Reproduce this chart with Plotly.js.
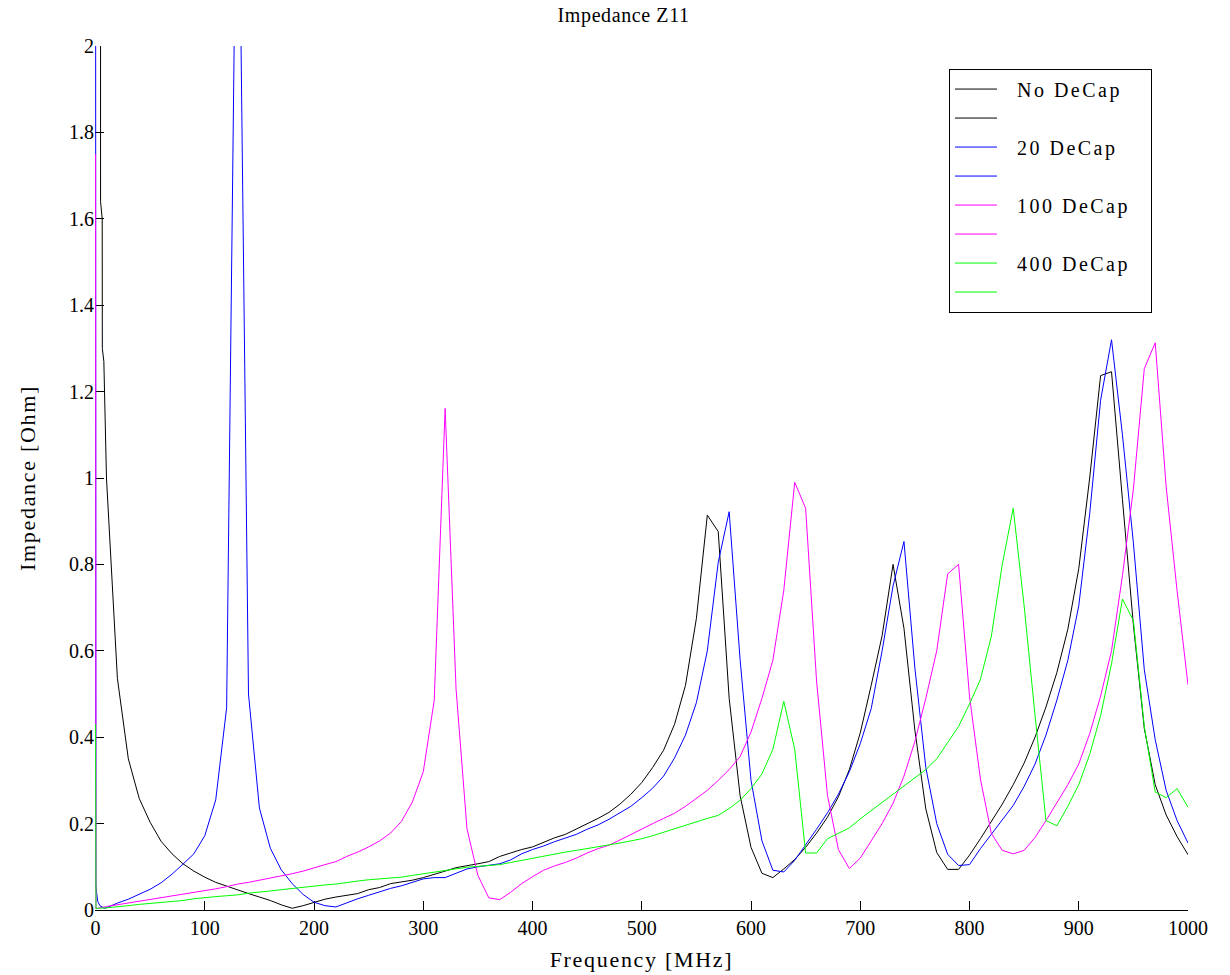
<!DOCTYPE html>
<html>
<head>
<meta charset="utf-8">
<script src="https://cdn.plot.ly/plotly-3.0.1.min.js"></script>
<style>
  html, body { margin: 0; padding: 0; background: #ffffff; }
  #chart { width: 1230px; height: 975px; }
  .legendtext { letter-spacing: 2.5px; }
  .xtitle, .ytitle { letter-spacing: 1.7px; }
  .gtitle { letter-spacing: 0.6px; }
</style>
</head>
<body>
<div id="chart"></div>
<script>
// Frequency grid (MHz) shared by the main sweeps
const freq = [10,20,30,40,50,60,70,80,90,100,110,120,130,140,150,160,170,180,190,200,
  210,220,230,240,250,260,270,280,290,300,310,320,330,340,350,360,370,380,390,400,
  410,420,430,440,450,460,470,480,490,500,510,520,530,540,550,560,570,580,590,600,
  610,620,630,640,650,660,670,680,690,700,710,720,730,740,750,760,770,780,790,800,
  810,820,830,840,850,860,870,880,890,900,910,920,930,940,950,960,970,980,990,1000];

// Impedance [Ohm] - No DeCap
const noDeCap = [1.0,0.536,0.35,0.258,0.203,0.159,0.13,0.107,0.09,0.076,
  0.064,0.055,0.047,0.038,0.03,0.022,0.012,0.004,0.01,0.018,
  0.025,0.03,0.034,0.038,0.047,0.052,0.061,0.065,0.069,0.075,
  0.082,0.09,0.098,0.102,0.107,0.112,0.124,0.132,0.14,0.146,
  0.157,0.167,0.175,0.187,0.2,0.212,0.226,0.245,0.268,0.295,
  0.33,0.37,0.43,0.52,0.675,0.914,0.876,0.49,0.265,0.145,
  0.085,0.075,0.095,0.117,0.145,0.178,0.215,0.262,0.325,0.41,
  0.52,0.635,0.80,0.652,0.416,0.234,0.133,0.094,0.094,0.127,
  0.165,0.205,0.245,0.29,0.34,0.4,0.47,0.55,0.65,0.79,
  1.0,1.237,1.246,0.95,0.66,0.42,0.29,0.22,0.17,0.128];

// Impedance [Ohm] - 20 DeCap
const deCap20 = [0.005,0.016,0.025,0.036,0.048,0.063,0.083,0.106,0.13,0.172,
  0.255,0.468,2.7,0.5,0.236,0.143,0.093,0.061,0.036,0.018,
  0.01,0.007,0.017,0.026,0.034,0.042,0.05,0.056,0.064,0.072,
  0.075,0.075,0.085,0.095,0.1,0.104,0.107,0.116,0.13,0.14,
  0.148,0.158,0.166,0.175,0.187,0.197,0.21,0.225,0.24,0.26,
  0.282,0.31,0.352,0.405,0.48,0.6,0.805,0.922,0.58,0.30,
  0.16,0.092,0.088,0.115,0.15,0.187,0.225,0.268,0.32,0.385,
  0.466,0.60,0.75,0.853,0.56,0.33,0.2,0.129,0.103,0.105,
  0.142,0.175,0.207,0.242,0.286,0.338,0.405,0.486,0.578,0.704,
  0.917,1.18,1.32,1.1,0.85,0.556,0.394,0.277,0.207,0.155];

// Impedance [Ohm] - 100 DeCap
const deCap100 = [0.008,0.012,0.016,0.02,0.024,0.028,0.032,0.036,0.04,0.044,
  0.049,0.054,0.06,0.064,0.069,0.073,0.078,0.084,0.09,0.098,
  0.105,0.112,0.124,0.134,0.146,0.16,0.178,0.205,0.25,0.32,
  0.485,1.161,0.512,0.188,0.08,0.028,0.024,0.041,0.061,0.077,
  0.092,0.102,0.11,0.12,0.132,0.142,0.15,0.162,0.175,0.188,
  0.2,0.212,0.224,0.24,0.258,0.277,0.3,0.325,0.355,0.412,
  0.49,0.578,0.74,0.99,0.93,0.53,0.265,0.14,0.096,0.12,
  0.16,0.2,0.247,0.31,0.39,0.49,0.6,0.778,0.8,0.495,
  0.303,0.177,0.138,0.13,0.138,0.168,0.207,0.247,0.29,0.338,
  0.408,0.495,0.6,0.774,0.974,1.253,1.313,0.98,0.739,0.521];

// Impedance [Ohm] - 400 DeCap
const deCap400 = [0.005,0.007,0.01,0.013,0.015,0.018,0.02,0.022,0.026,0.029,
  0.031,0.033,0.035,0.039,0.041,0.044,0.047,0.05,0.052,0.055,
  0.058,0.06,0.064,0.067,0.07,0.072,0.075,0.076,0.08,0.084,
  0.088,0.092,0.096,0.099,0.101,0.103,0.105,0.11,0.115,0.12,
  0.124,0.129,0.134,0.138,0.142,0.146,0.15,0.155,0.16,0.165,
  0.172,0.18,0.188,0.196,0.205,0.212,0.219,0.235,0.254,0.281,
  0.315,0.372,0.483,0.372,0.132,0.132,0.165,0.178,0.19,0.211,
  0.23,0.25,0.267,0.286,0.306,0.325,0.35,0.386,0.425,0.477,
  0.534,0.634,0.8,0.93,0.704,0.45,0.207,0.195,0.24,0.29,
  0.36,0.45,0.57,0.72,0.67,0.425,0.273,0.26,0.281,0.238];

// Low-frequency sweeps (0-10 MHz)
const noDeCapLowFreq = [4.5,4.6,6.1,6.2,7.6,10];
const noDeCapLow     = [3.5,1.64,1.60,1.30,1.27,1.0];
const deCap20LowFreq = [0,0.3,1,2,4,8,10];
const deCap20Low     = [3.0,0.056,0.04,0.02,0.01,0.004,0.005];
const deCap100LowFreq = [0,0.4,2,10];
const deCap100Low     = [1.75,0.003,0.004,0.008];
const deCap400LowFreq = [0,0.4,2,10];
const deCap400Low     = [0.43,0.003,0.004,0.005];

const names  = ['No DeCap', '20 DeCap', '100 DeCap', '400 DeCap'];
const colors = ['#000000', '#0000ff', '#ff00ff', '#00ff00'];
const mainY  = [noDeCap, deCap20, deCap100, deCap400];
const lowX   = [noDeCapLowFreq, deCap20LowFreq, deCap100LowFreq, deCap400LowFreq];
const lowY   = [noDeCapLow, deCap20Low, deCap100Low, deCap400Low];

const NB = '\u00a0';
const traces = [];
for (let i = 0; i < names.length; i++) {
  traces.push({
    type: 'scatter', mode: 'lines', x: freq, y: mainY[i],
    name: NB + NB + names[i] + NB + NB, line: {color: colors[i], width: 1}
  });
  traces.push({
    type: 'scatter', mode: 'lines', x: lowX[i], y: lowY[i],
    name: NB, line: {color: colors[i], width: 1}
  });
}

const serif = 'Liberation Serif, Times New Roman, serif';
const layout = {
  width: 1230, height: 975,
  margin: {l: 95, r: 42, t: 46, b: 65},
  paper_bgcolor: '#ffffff', plot_bgcolor: '#ffffff',
  font: {family: serif, size: 20, color: '#000000'},
  title: {text: 'Impedance Z11', font: {family: serif, size: 20, color: '#000000'},
          x: 0.507, xref: 'container', y: 0.985, yref: 'container', xanchor: 'center', yanchor: 'middle'},
  showlegend: true,
  legend: {
    x: 0.7813, y: 0.9739, xanchor: 'left', yanchor: 'top',
    bgcolor: '#ffffff', bordercolor: '#000000', borderwidth: 1,
    font: {family: serif, size: 20, color: '#000000'},
    traceorder: 'normal', itemwidth: 42
  },
  xaxis: {
    range: [-0.5, 1000], tickvals: [0,100,200,300,400,500,600,700,800,900,1000],
    layer: 'below traces',
    showline: true, linecolor: '#000000', linewidth: 1, mirror: false,
    ticks: 'inside', ticklen: 9, tickcolor: '#000000', tickwidth: 1,
    showgrid: false, zeroline: false,
    tickfont: {family: serif, size: 20, color: '#000000'},
    title: {text: 'Frequency [MHz]', font: {family: serif, size: 22, color: '#000000'}, standoff: 13}
  },
  yaxis: {
    range: [0, 2], dtick: 0.2, tick0: 0, layer: 'below traces',
    showline: false, mirror: false,
    ticks: 'inside', ticklen: 9, tickcolor: '#000000', tickwidth: 1,
    showgrid: false, zeroline: false,
    tickfont: {family: serif, size: 20, color: '#000000'},
    title: {text: 'Impedance [Ohm]', font: {family: serif, size: 22, color: '#000000'}, standoff: 27}
  }
};

Plotly.newPlot('chart', traces, layout, {displayModeBar: false, staticPlot: true});
</script>
</body>
</html>
